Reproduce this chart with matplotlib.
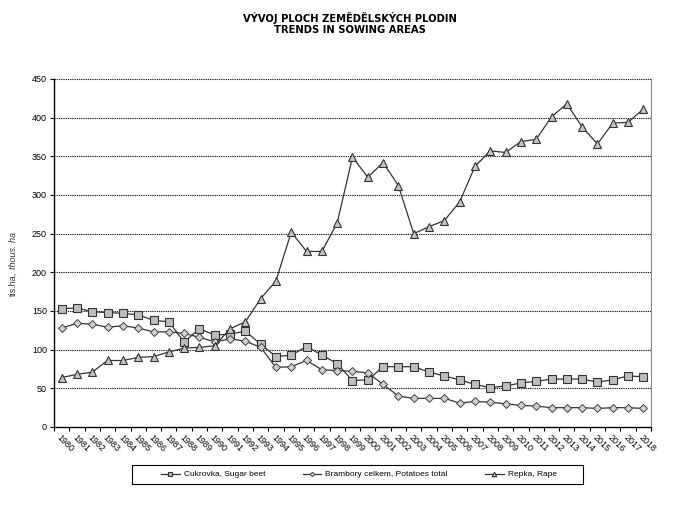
import matplotlib.pyplot as plt
from matplotlib.patches import Rectangle
import numpy as np

years = list(range(1980, 2019))

sugar_beet = [153, 154, 149, 148, 147, 145, 138, 136, 110, 127,
              119, 120, 124, 107, 91, 93, 104, 93, 82, 60,
              61, 78, 78, 78, 71, 66, 61, 55, 51, 53,
              57, 59, 62, 62, 62, 58, 61, 66, 65]
potatoes = [128, 134, 133, 129, 131, 128, 123, 123, 121, 116,
            110, 114, 111, 103, 77, 78, 86, 74, 73, 72,
            70, 55, 40, 37, 37, 37, 31, 33, 32, 30,
            28, 27, 25, 25, 25, 24, 25, 25, 24]
rape = [64, 68, 71, 86, 86, 90, 91, 97, 102, 103,
        105, 127, 136, 166, 189, 252, 227, 227, 264, 349,
        323, 342, 312, 250, 259, 267, 291, 337, 357, 355,
        369, 372, 401, 418, 388, 366, 393, 394, 411]

labels = ['Cukrovka, Sugar beet', 'Brambory celkem, Potatoes total', 'Repka, Rape']

plt.rcParams['font.family'] = ['Liberation Sans Narrow', 'Liberation Sans', 'DejaVu Sans']

fig = plt.figure(figsize=(7, 5.14), dpi=100)
ax = fig.add_axes([54 / 700, 1 - 427 / 514, (651 - 54) / 700, (427 - 79) / 514])

x = np.arange(len(years))
ax.plot(x, sugar_beet, color='#333333', lw=0.9, marker='s', ms=6,
        mfc='#bdbdbd', mec='#333333', mew=0.8, label=labels[0], zorder=3)
ax.plot(x, potatoes, color='#333333', lw=0.9, marker='D', ms=4.2,
        mfc='#d0d0d0', mec='#444444', mew=0.7, label=labels[1], zorder=3)
ax.plot(x, rape, color='#333333', lw=0.9, marker='^', ms=6,
        mfc='#c4c4c4', mec='#333333', mew=0.8, label=labels[2], zorder=3)

ax.set_xlim(-0.5, len(years) - 0.5)
ax.set_ylim(0, 450)
ax.set_yticks(range(0, 451, 50))
ax.tick_params(axis='y', labelsize=6.5, length=3, width=0.8, pad=2, direction='out')
for v in range(50, 451, 50):
    ax.axhline(v, color='#222222', lw=0.8, ls=(0, (1.2, 0.8)), zorder=1)

ax.set_xticks(np.arange(-0.5, len(years), 1))
ax.set_xticklabels([])
ax.set_xticks(x, minor=True)
ax.set_xticklabels([str(y) for y in years], minor=True, rotation=-45,
                   ha='left', va='top', rotation_mode='anchor', fontsize=6.5)
ax.tick_params(axis='x', which='major', length=3, width=0.8, direction='out')
ax.tick_params(axis='x', which='minor', length=0, pad=4)

ax.spines['top'].set_visible(False)
ax.spines['right'].set_color('#888888')
ax.spines['left'].set_linewidth(1.0)
ax.spines['bottom'].set_linewidth(1.0)

fig.text(0.5, 1 - 18 / 514, 'VÝVOJ PLOCH ZEMĚDĚLSKÝCH PLODIN', ha='center',
         va='center', fontsize=8, fontweight='bold', family='DejaVu Sans',
         fontstretch='condensed')
fig.text(0.5, 1 - 30 / 514, 'TRENDS IN SOWING AREAS', ha='center',
         va='center', fontsize=8, fontweight='bold', family='DejaVu Sans',
         fontstretch='condensed')

ylab_y = 1 - 272 / 514
fig.text(13 / 700, ylab_y, 'tis.ha,', rotation=90, ha='center', va='top',
         fontsize=6.5, color='#333333')
fig.text(13 / 700, ylab_y + 0.006, 'thous. ha', rotation=90, ha='center', va='bottom',
         fontsize=6.5, style='italic', color='#333333')

# legend frame drawn separately so it can be wider than its entries
fig.patches.append(Rectangle((132 / 700, 1 - 484 / 514), (583 - 132) / 700, 19 / 514,
                             transform=fig.transFigure, fill=False,
                             edgecolor='black', linewidth=0.8))
leg = fig.legend(loc='center', ncol=3, bbox_to_anchor=(359 / 700, 1 - 474.5 / 514),
                 fontsize=6, frameon=False, handlelength=2.2, columnspacing=4.5,
                 markerscale=0.55, borderaxespad=0, handletextpad=0.5)

fig.savefig('out.png', dpi=100)
